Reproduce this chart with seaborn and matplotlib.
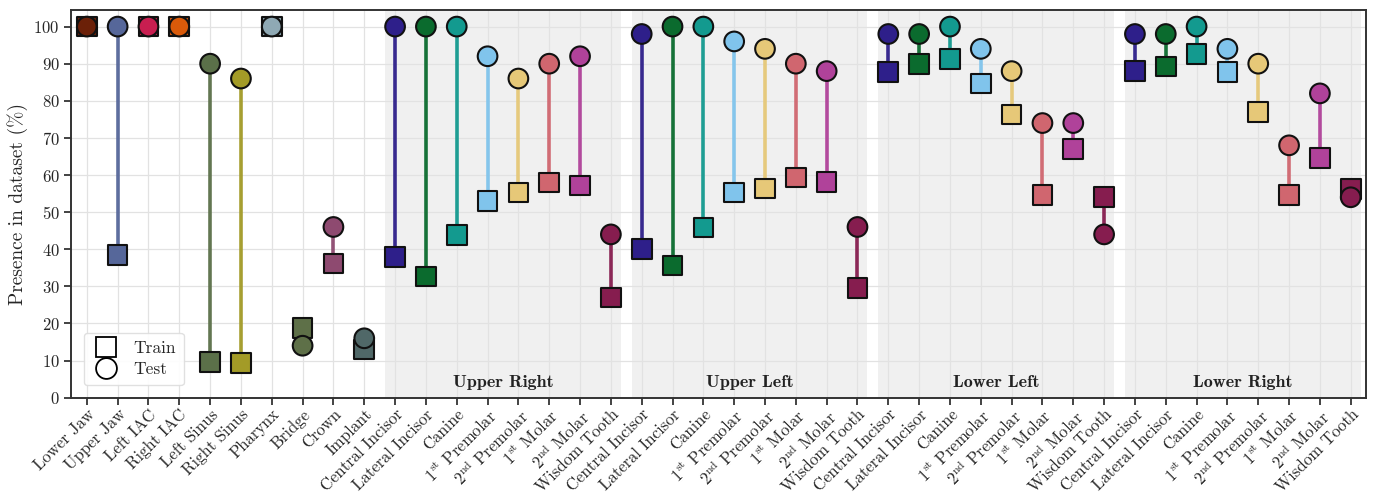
import numpy as np
import pandas as pd
import matplotlib
matplotlib.use("Agg")
import matplotlib.pyplot as plt
import seaborn as sns
from matplotlib.lines import Line2D

# ---------------- data ----------------
general_labels = ["Lower Jaw", "Upper Jaw", "Left IAC", "Right IAC", "Left Sinus",
                  "Right Sinus", "Pharynx", "Bridge", "Crown", "Implant"]
general_train = [100, 38.5, 100, 100, 9.6, 9.3, 100, 18.7, 36.2, 13.0]
general_test = [100, 100, 100, 100, 90, 86, 100, 14, 46, 16]
general_colors = ["#6b2008", "#56679a", "#c81e50", "#d95a0a", "#5b7049",
                  "#a39b27", "#8fa9b4", "#5e7048", "#8e4a70", "#506868"]

tooth_labels = ["Central Incisor", "Lateral Incisor", "Canine", r"1$^{\rm st}$ Premolar",
                r"2$^{\rm nd}$ Premolar", r"1$^{\rm st}$ Molar", r"2$^{\rm nd}$ Molar", "Wisdom Tooth"]
tooth_colors = ["#2e1f8a", "#0b6b2e", "#139a8f", "#80c4ec",
                "#e6c878", "#d0666f", "#b0429a", "#861d4f"]
quadrants = ["Upper Right", "Upper Left", "Lower Left", "Lower Right"]

ur_train = [37.9, 32.7, 43.9, 53.0, 55.3, 58.0, 57.2, 27.0]
ur_test = [100, 100, 100, 92, 86, 90, 92, 44]
ul_train = [40.0, 35.6, 45.9, 55.3, 56.4, 59.3, 58.2, 29.6]
ul_test = [98, 100, 100, 96, 94, 90, 88, 46]
ll_train = [87.8, 89.9, 91.3, 84.7, 76.3, 54.6, 67.0, 54.1]
ll_test = [98, 98, 100, 94, 88, 74, 74, 44]
lr_train = [88.0, 89.2, 92.6, 87.8, 77.0, 54.6, 64.6, 56.3]
lr_test = [98, 98, 100, 94, 90, 68, 82, 54]

quad_train = [ur_train, ul_train, ll_train, lr_train]
quad_test = [ur_test, ul_test, ll_test, lr_test]

# ---------------- build table ----------------
labels = list(general_labels)
train = list(general_train)
test = list(general_test)
colors = list(general_colors)
for tr, te in zip(quad_train, quad_test):
    labels += tooth_labels
    train += tr
    test += te
    colors += tooth_colors

df = pd.DataFrame({"x": np.arange(len(labels)), "label": labels,
                   "train": train, "test": test, "color": colors})
df["key"] = df["label"] + "_" + df["x"].astype(str)
palette = dict(zip(df["key"], df["color"]))

# ---------------- style ----------------
sns.set_theme(style="whitegrid")
plt.rcParams["font.family"] = "serif"
plt.rcParams["font.serif"] = ["cmr10", "DejaVu Serif"]
plt.rcParams["mathtext.fontset"] = "cm"
plt.rcParams["axes.unicode_minus"] = False
plt.rcParams["axes.formatter.use_mathtext"] = True

fig, ax = plt.subplots(figsize=(13.73, 4.94), dpi=100)

# group shading
n_gen = len(general_labels)
n_t = len(tooth_labels)
for qi, q in enumerate(quadrants):
    start = n_gen + qi * n_t
    end = start + n_t - 1
    ax.axvspan(start - 0.32, min(end + 0.32, len(labels) - 0.5),
               color="#f0f0f0", zorder=0, lw=0)
    ax.text((start + end) / 2, 4, q, ha="center", va="center",
            fontsize=13, family=["cmb10", "DejaVu Serif"], color="#222222", zorder=1)

# connecting lines
for _, r in df.iterrows():
    ax.plot([r.x, r.x], [r.train, r.test], color=r.color, lw=2.6, alpha=0.95, zorder=2,
            solid_capstyle="butt")

sns.scatterplot(data=df, x="x", y="train", hue="key", palette=palette, marker="s",
                s=200, edgecolor="#111111", linewidth=1.5, legend=False, ax=ax, zorder=3)
sns.scatterplot(data=df, x="x", y="test", hue="key", palette=palette, marker="o",
                s=200, edgecolor="#111111", linewidth=1.5, legend=False, ax=ax, zorder=4)

# axes
ax.set_xlim(-0.5, len(labels) - 0.5)
ax.set_ylim(0, 104.5)
ax.set_yticks(np.arange(0, 101, 10))
ax.set_xticks(df["x"])
ax.set_xticklabels(df["label"], rotation=45, ha="right", rotation_mode="anchor", fontsize=12)
ax.tick_params(axis="y", labelsize=12)
ax.tick_params(axis="both", which="major", direction="out", length=5, width=1.2,
               color="#222222", bottom=True, left=True)
ax.tick_params(axis="x", pad=1.5)
ax.set_xlabel("")
ax.set_ylabel("Presence in dataset (%)", fontsize=14)
ax.grid(True, color="#e2e2e2", lw=0.9)
ax.set_axisbelow(True)
for s in ax.spines.values():
    s.set_color("#333333")
    s.set_linewidth(1.4)

handles = [Line2D([], [], marker="s", color="none", markerfacecolor="white",
                  markeredgecolor="black", markersize=15, markeredgewidth=1.3),
           Line2D([], [], marker="o", color="none", markerfacecolor="white",
                  markeredgecolor="black", markersize=15, markeredgewidth=1.3)]
leg = ax.legend(handles, ["Train", "Test"], loc="lower left", fontsize=12.5,
                frameon=True, fancybox=True, framealpha=0.9, handletextpad=0.8,
                handlelength=1.6, borderpad=0.45, labelspacing=0.35,
                bbox_to_anchor=(0.003, 0.01))
leg.get_frame().set_edgecolor("#dddddd")

fig.subplots_adjust(left=0.052, right=0.995, top=0.98, bottom=0.195)
fig.savefig("out.png", dpi=100)
